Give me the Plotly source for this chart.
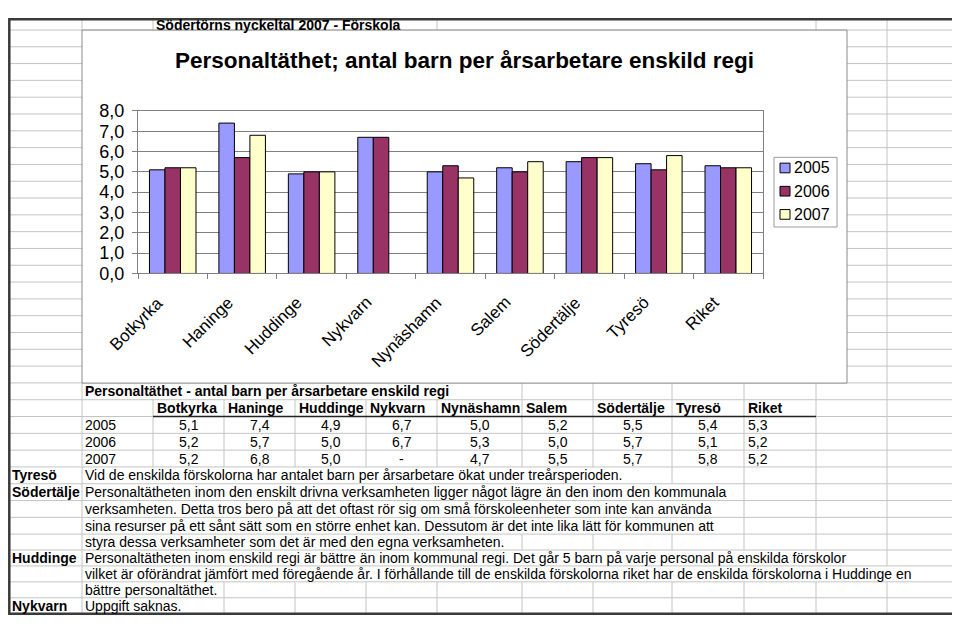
import numpy as np
import plotly.graph_objects as go

# ---------------- data ----------------
categories = ["Botkyrka", "Haninge", "Huddinge", "Nykvarn", "Nynäshamn",
              "Salem", "Södertälje", "Tyresö", "Riket"]
years = ["2005", "2006", "2007"]
v2005 = [5.1, 7.4, 4.9, 6.7, 5.0, 5.2, 5.5, 5.4, 5.3]
v2006 = [5.2, 5.7, 5.0, 6.7, 5.3, 5.0, 5.7, 5.1, 5.2]
v2007 = [5.2, 6.8, 5.0, None, 4.7, 5.5, 5.7, 5.8, 5.2]
series_values = [v2005, v2006, v2007]
y_ticks = [0, 1, 2, 3, 4, 5, 6, 7, 8]

sheet_title = "Södertörns nyckeltal 2007 - Förskola"
chart_title = "Personaltäthet; antal barn per årsarbetare enskild regi"
table_title = "Personaltäthet - antal barn per årsarbetare enskild regi"
comments = [
    ("Tyresö", ["Vid de enskilda förskolorna har antalet barn per årsarbetare ökat under treårsperioden."]),
    ("Södertälje", ["Personaltätheten inom den enskilt drivna verksamheten ligger något lägre än den inom den kommunala",
                    "verksamheten. Detta tros bero på att det oftast rör sig om små förskoleenheter som inte kan använda",
                    "sina resurser på ett sånt sätt som en större enhet kan. Dessutom är det inte lika lätt för kommunen att",
                    "styra dessa verksamheter som det är med den egna verksamheten."]),
    ("Huddinge", ["Personaltätheten inom enskild regi är bättre än inom kommunal regi. Det går 5 barn på varje personal på enskilda förskolor",
                  "vilket är oförändrat jämfört med föregående år. I förhållande till de enskilda förskolorna riket har de enskilda förskolorna i Huddinge en",
                  "bättre personaltäthet."]),
    ("Nykvarn", ["Uppgift saknas."]),
]

# ---------------- styling / geometry ----------------
# the page body keeps its 8px margin; the figure fills the rest of the window exactly
OX, OY = 8, 8
FW, FH = 952, 617
FONT = "Liberation Sans, Arial, sans-serif"
colors = ["#9999FF", "#993366", "#FFFFCC"]
GRID = "#c4c4c4"
col_edges = [3, 82, 153, 224, 295, 366, 437, 522, 593, 672, 744, 816, 887, 957]
ROW_TOP, ROW_H, N_ROWS = 3.0, 17.37, 36
chart_box = (82, 20.5, 847, 385.3)
plot_box = (138, 104, 763, 272)
# where overflowing text ends (hides vertical gridlines), by row index
overflow_end = {22: 448, 27: 633, 28: 727, 29: 705, 30: 715, 31: 520,
                32: 835, 33: 913, 34: 217, 35: 196}
# squeeze the outermost sheet strips so nothing falls into the page margin
X_FROM, X_TO = [3, 82, 957], [9.3, 82, 957]
Y_FROM, Y_TO = [3, 20.5, 540, 628.5], [9.3, 20.5, 540, 623.8]


def px(x):
    return (float(np.interp(x, X_FROM, X_TO)) - OX) / FW


def py(y):
    return 1 - (float(np.interp(y, Y_FROM, Y_TO)) - OY) / FH


def row_top(k):
    return ROW_TOP + k * ROW_H


def row_mid(k):
    return row_top(k) + ROW_H / 2


def fmt(v):
    return "-" if v is None else f"{v:.1f}".replace(".", ",")


fig = go.Figure()
for name, vals, c in zip(years, series_values, colors):
    fig.add_trace(go.Bar(name=name, x=categories, y=vals, marker_color=c,
                         marker_line_color="#000000", marker_line_width=1))

shapes = []


def line(x0, y0, x1, y1, color=GRID, width=1):
    shapes.append(dict(type="line", xref="paper", yref="paper",
                       x0=px(x0), y0=py(y0), x1=px(x1), y1=py(y1),
                       line=dict(color=color, width=width), layer="below"))


# horizontal sheet gridlines
for k in range(1, N_ROWS):
    y = row_top(k)
    if 2 <= k <= 21:
        line(3, y, chart_box[0], y)
        line(chart_box[2], y, 957, y)
    else:
        line(3, y, 957, y)

# vertical sheet gridlines
for k in range(N_ROWS):
    y0, y1 = row_top(k), row_top(k + 1)
    if k == 0:
        bounds = [82, 153, 437, 816, 887]
    elif k <= 21:
        bounds = [887]
    else:
        end = overflow_end.get(k, 0)
        bounds = [b for b in col_edges[1:-1] if b == 82 or b >= end]
    for b in bounds:
        line(b, y0, b, y1)

# chart object frame
shapes.append(dict(type="rect", xref="paper", yref="paper",
                   x0=px(chart_box[0]), y0=py(chart_box[1]),
                   x1=px(chart_box[2]), y1=py(chart_box[3]),
                   fillcolor="white", line=dict(color="#8a8a8a", width=1), layer="below"))

# header underline in table
line(153, row_top(24), 816, row_top(24), color="#222222", width=1.5)

# outer sheet border
shapes.append(dict(type="rect", xref="paper", yref="paper",
                   x0=px(3), y0=py(3), x1=px(957), y1=py(628.5),
                   line=dict(color="#3a3a3a", width=2.5)))

# legend (Excel style)
leg_box = (774, 152, 837, 224)
shapes.append(dict(type="rect", xref="paper", yref="paper",
                   x0=px(leg_box[0]), y0=py(leg_box[1]), x1=px(leg_box[2]), y1=py(leg_box[3]),
                   fillcolor="white", line=dict(color="#9a9a9a", width=1)))
annotations = []
for i, (name, c) in enumerate(zip(years, colors)):
    yc = 163 + i * 24
    shapes.append(dict(type="rect", xref="paper", yref="paper",
                       x0=px(780), y0=py(yc - 5), x1=px(790), y1=py(yc + 5),
                       fillcolor=c, line=dict(color="#000000", width=1)))
    annotations.append(dict(xref="paper", yref="paper", x=px(792), y=py(yc),
                            text=name, showarrow=False, xanchor="left", yanchor="middle",
                            font=dict(family=FONT, size=16, color="black")))


def text(x, y, s, size=14, bold=False, anchor="left"):
    annotations.append(dict(xref="paper", yref="paper", x=px(x), y=py(y),
                            text=f"<b>{s}</b>" if bold else s, showarrow=False,
                            xanchor=anchor, yanchor="middle", borderpad=0,
                            font=dict(family=FONT, size=size, color="black")))


# category labels, rotated like Excel's (range is fixed below so they don't widen it)
for cat in categories:
    annotations.append(dict(xref="x", yref="paper", x=cat, y=py(291), xshift=-4,
                            text=cat, showarrow=False, textangle=-45,
                            xanchor="right", yanchor="top", borderpad=0,
                            font=dict(family=FONT, size=17, color="black")))

text(155, row_mid(0), sheet_title, bold=True)
text(464, 52, chart_title, size=22.5, bold=True, anchor="center")

# table
text(84, row_mid(22), table_title, bold=True)
for j, cat in enumerate(categories):
    text(col_edges[2 + j] + 2.5, row_mid(23), cat, bold=True)
for i, (yr, vals) in enumerate(zip(years, series_values)):
    k = 24 + i
    text(84, row_mid(k), yr)
    for j, v in enumerate(vals):
        left, right = col_edges[2 + j], col_edges[3 + j]
        if j == len(vals) - 1:
            text(left + 3, row_mid(k), fmt(v))
        else:
            text((left + right) / 2, row_mid(k), fmt(v), anchor="center")

# comments
k = 27
for label, lines in comments:
    text(5, row_mid(k), label, bold=True)
    for ln in lines:
        text(84, row_mid(k), ln)
        k += 1

fig.update_layout(
    width=FW, height=FH, margin=dict(l=0, r=0, t=0, b=0),
    paper_bgcolor="white", plot_bgcolor="#C0C0C0",
    separators=",.",
    barmode="group", bargap=0.33, bargroupgap=0,
    showlegend=False,
    font=dict(family=FONT, color="black"),
    shapes=shapes, annotations=annotations,
    xaxis=dict(domain=[px(plot_box[0]), px(plot_box[2])],
               range=[-0.5, len(categories) - 0.5], autorange=False,
               showticklabels=False,
               ticks="outside", tickson="boundaries", ticklen=5, tickcolor="#808080",
               showline=True, linecolor="#808080", mirror=True, showgrid=False),
    yaxis=dict(domain=[py(plot_box[3]), py(plot_box[1])],
               range=[0, 8], tickvals=y_ticks, tickformat=".1f",
               tickfont=dict(size=18), ticks="outside", ticklen=5, tickcolor="#808080",
               showline=True, linecolor="#808080", mirror=True,
               showgrid=True, gridcolor="#808080", gridwidth=1, zeroline=False,
               ticklabelstandoff=4),
)

fig.write_html("out.html", config={"displayModeBar": False})
